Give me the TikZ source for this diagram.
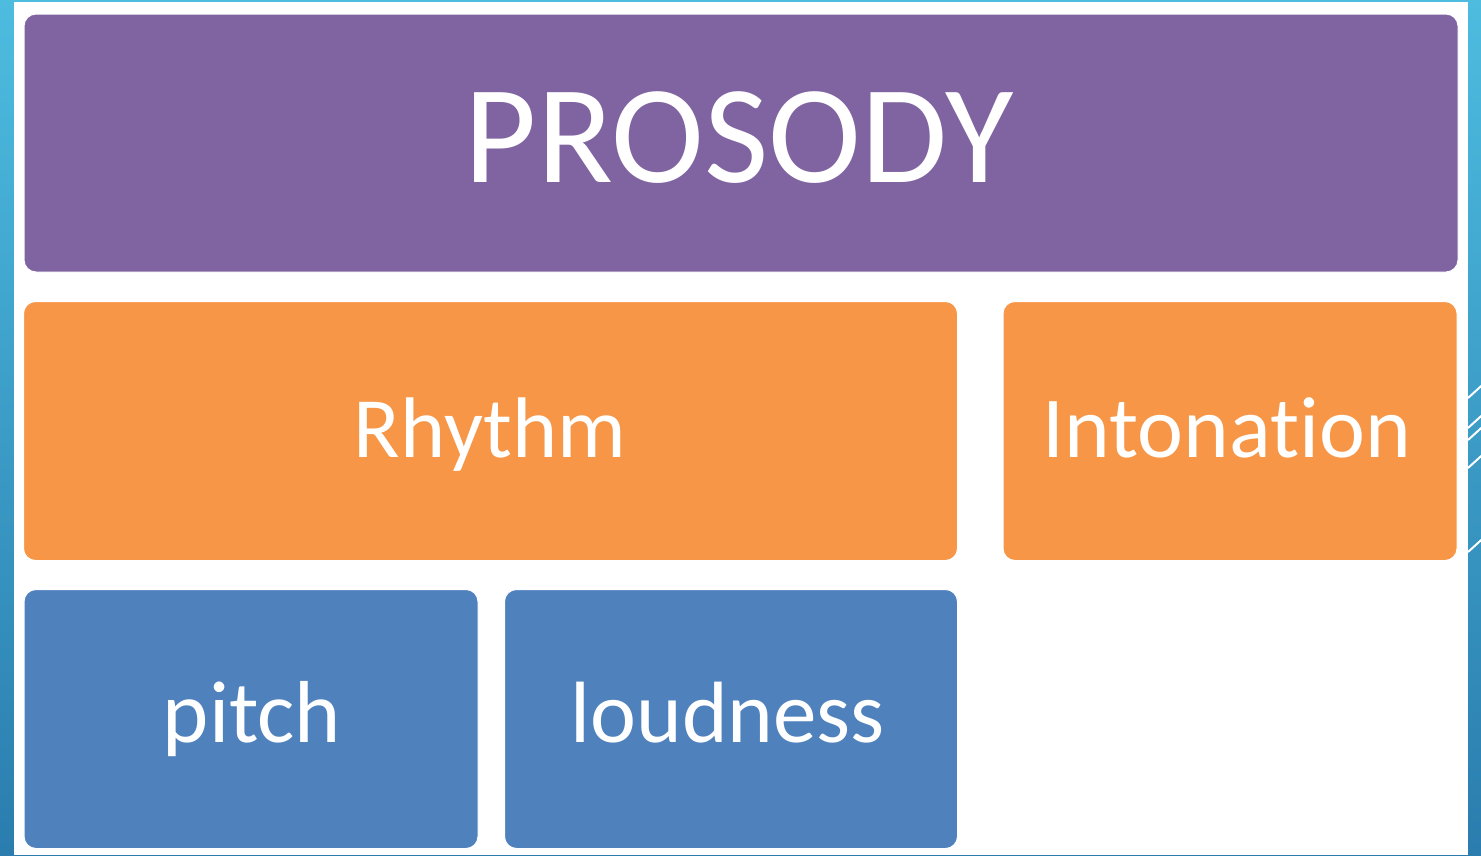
\documentclass[tikz,border=0pt]{standalone}
\usepackage{fontspec}
\setmainfont[Ligatures=NoCommon]{Carlito}
\definecolor{bgtop}{HTML}{4DBCDF}
\definecolor{bgbot}{HTML}{2A7DAE}
\definecolor{purp}{HTML}{8064A2}
\definecolor{oran}{HTML}{F79646}
\definecolor{blu}{HTML}{4F81BD}
\tikzset{
  tile/.style={rounded corners=12pt, inner sep=0pt, text=white, draw=white, line width=1pt},
  lbl/.style={text=white, anchor=base, inner sep=0pt},
}
\begin{document}
\begin{tikzpicture}[x=1pt,y=-1pt]
\useasboundingbox (0,0) rectangle (1481,855);
\shade[top color=bgtop, bottom color=bgbot] (0,0) rectangle (1481,855);
\fill[white] (14,2) rectangle (1468,855);
% decorative stripes on right edge
\begin{scope}
\clip (1468,360) rectangle (1481,600);
\foreach \y in {398,428,440,468,552}
  \draw[white, line width=2pt] (1468,\y) -- (1490,\y-20);
\end{scope}
\node[tile, fill=purp, minimum width=1434pt, minimum height=258pt] (prosody) at (741,143) {};
\node[lbl, font=\fontsize{140}{140}\selectfont] (prosodyt) at (739,182) {PROSODY};
\node[tile, fill=oran, minimum width=934pt, minimum height=259pt] (rhythm) at (490.5,431) {};
\node[lbl, font=\fontsize{86}{86}\selectfont] (rhythmt) at (490,457) {Rhythm};
\node[tile, fill=oran, minimum width=454pt, minimum height=259pt] (inton) at (1230,431) {};
\node[lbl, font=\fontsize{87}{87}\selectfont] (intont) at (1227,457) {Intonation};
\node[tile, fill=blu, minimum width=454pt, minimum height=259pt] (pitch) at (251,719) {};
\node[lbl, font=\fontsize{88}{88}\selectfont] (pitcht) at (252,742) {pitch};
\node[tile, fill=blu, minimum width=453pt, minimum height=259pt] (loud) at (731,719) {};
\node[lbl, font=\fontsize{87}{87}\selectfont] (loudt) at (728,742) {loudness};
\end{tikzpicture}
\end{document}
